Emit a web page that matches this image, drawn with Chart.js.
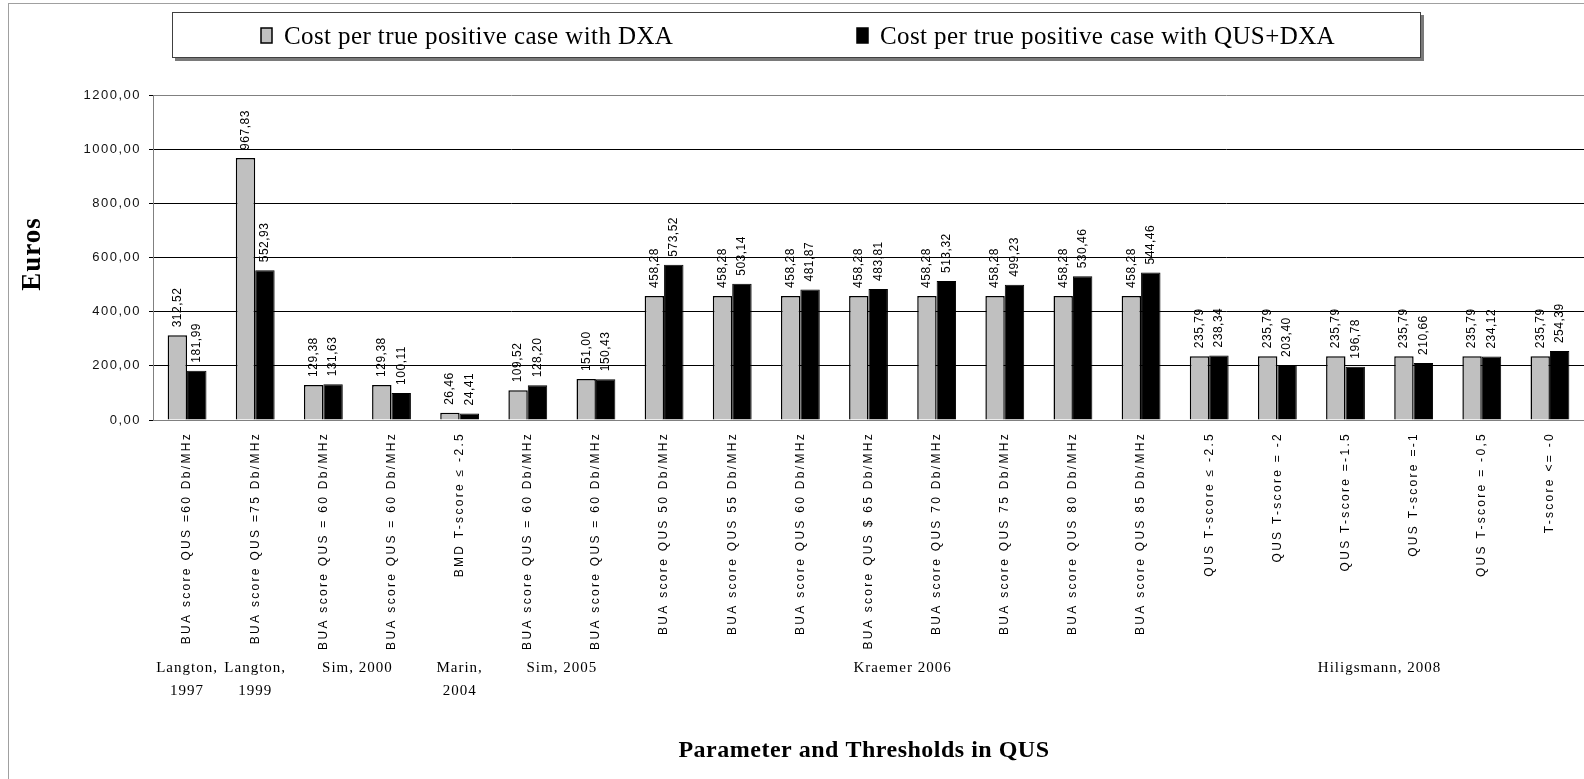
<!DOCTYPE html>
<html><head><meta charset="utf-8">
<script src="https://cdn.jsdelivr.net/npm/chart.js@4.4.0/dist/chart.umd.min.js"></script>
<style>html,body{margin:0;padding:0;background:#fff;} #wrap{position:relative;width:1584px;height:779px;}</style>
</head><body><div id="wrap"><canvas id="c"></canvas></div>
<script>
const categories = [
  'BUA score QUS =60 Db/MHz',
  'BUA score QUS =75 Db/MHz',
  'BUA score QUS = 60 Db/MHz',
  'BUA score QUS = 60 Db/MHz',
  'BMD T-score ≤ -2.5',
  'BUA score QUS = 60 Db/MHz',
  'BUA score QUS = 60 Db/MHz',
  'BUA score QUS 50 Db/MHz',
  'BUA score QUS 55 Db/MHz',
  'BUA score QUS 60 Db/MHz',
  'BUA score QUS $ 65 Db/MHz',
  'BUA score QUS 70 Db/MHz',
  'BUA score QUS 75 Db/MHz',
  'BUA score QUS 80 Db/MHz',
  'BUA score QUS 85 Db/MHz',
  'QUS T-score ≤ -2.5',
  'QUS T-score = -2',
  'QUS T-score =-1.5',
  'QUS T-score =-1',
  'QUS T-score = -0,5',
  'T-score <= -0'
];
const dxaCost = [312.52, 967.83, 129.38, 129.38, 26.46, 109.52, 151.00,
  458.28, 458.28, 458.28, 458.28, 458.28, 458.28, 458.28, 458.28,
  235.79, 235.79, 235.79, 235.79, 235.79, 235.79];
const qusDxaCost = [181.99, 552.93, 131.63, 100.11, 24.41, 128.20, 150.43,
  573.52, 503.14, 481.87, 483.81, 513.32, 499.23, 530.46, 544.46,
  238.34, 203.40, 196.78, 210.66, 234.12, 254.39];
const seriesNames = ['Cost per true positive case with DXA', 'Cost per true positive case with QUS+DXA'];
const yMin = 0, yMax = 1200, yStep = 200;
const studyLabels = [['Langton,', '1997'], ['Langton,', '1999'], ['Sim, 2000'], ['Marin,', '2004'], ['Sim, 2005'], ['Kraemer 2006'], ['Hiligsmann, 2008']];
const studyFirst = [0, 1, 2, 4, 5, 7, 15];
const studyLast  = [0, 1, 3, 4, 6, 14, 20];
const yTitle = 'Euros';
const xTitle = 'Parameter and Thresholds in QUS';

const fmt = v => v.toFixed(2).replace('.', ',');

const decor = {
  id: 'decor',
  beforeDraw(chart) { chart.ctx.letterSpacing = '1.5px'; },
  afterDatasetsDraw(chart) {
    const ctx = chart.ctx;
    ctx.save();
    ctx.letterSpacing = '0.5px';
    ctx.font = '12px "Liberation Sans", Arial, sans-serif';
    ctx.fillStyle = '#000';
    ctx.textAlign = 'left';
    ctx.textBaseline = 'middle';
    chart.data.datasets.forEach((ds, di) => {
      const meta = chart.getDatasetMeta(di);
      meta.data.forEach((el, i) => {
        ctx.save();
        ctx.translate(el.x, el.y - 8);
        ctx.rotate(-Math.PI / 2);
        ctx.fillText(fmt(ds.data[i]), 0, 0);
        ctx.restore();
      });
    });
    ctx.restore();
    ctx.letterSpacing = '2.3px';
  },
  afterDraw(chart) {
    const ctx = chart.ctx;
    ctx.save();
    ctx.letterSpacing = '0px';
    // outer frame
    ctx.strokeStyle = '#a0a0a0';
    ctx.lineWidth = 1;
    ctx.strokeRect(8.5, 3.5, 1600, 800);
    // legend box
    ctx.fillStyle = '#7a7a7a';
    ctx.fillRect(175, 15, 1249, 46);
    ctx.fillStyle = '#fff';
    ctx.fillRect(172, 12, 1249, 46);
    ctx.strokeStyle = '#404040';
    ctx.lineWidth = 1;
    ctx.strokeRect(172.5, 12.5, 1248, 45);
    const items = [{ sx: 261, tx: 284 }, { sx: 857, tx: 880 }];
    ctx.font = '25px "Liberation Serif", "Times New Roman", serif';
    ctx.letterSpacing = '0.4px';
    ctx.textBaseline = 'alphabetic';
    ctx.textAlign = 'left';
    chart.data.datasets.forEach((ds, i) => {
      const it = items[i];
      ctx.fillStyle = ds.backgroundColor;
      ctx.fillRect(it.sx, 28, 11, 15);
      ctx.strokeStyle = '#000';
      ctx.lineWidth = 1.5;
      ctx.strokeRect(it.sx, 28, 11, 15);
      ctx.fillStyle = '#000';
      ctx.fillText(ds.label, it.tx, 44);
    });
    // study group labels
    const xs = chart.scales.x;
    ctx.font = '15px "Liberation Serif", "Times New Roman", serif';
    ctx.letterSpacing = '1px';
    ctx.textAlign = 'center';
    ctx.textBaseline = 'middle';
    ctx.fillStyle = '#000';
    studyLabels.forEach((lines, g) => {
      const cx = (xs.getPixelForValue(studyFirst[g]) + xs.getPixelForValue(studyLast[g])) / 2;
      lines.forEach((ln, k) => ctx.fillText(ln, cx, 668 + k * 23));
    });
    // axis titles
    ctx.font = 'bold 24px "Liberation Serif", "Times New Roman", serif';
    ctx.letterSpacing = '0.5px';
    ctx.fillText(xTitle, 864, 751);
    ctx.save();
    ctx.translate(33, 254);
    ctx.rotate(-Math.PI / 2);
    ctx.font = 'bold 27px "Liberation Serif", "Times New Roman", serif';
    ctx.letterSpacing = '1px';
    ctx.fillText(yTitle, 0, 0);
    ctx.restore();
    ctx.restore();
  }
};

new Chart(document.getElementById('c'), {
  type: 'bar',
  data: {
    labels: categories,
    datasets: [
      { label: seriesNames[0], data: dxaCost, backgroundColor: '#c0c0c0', borderColor: '#000', borderWidth: 1.5,
        categoryPercentage: 0.57, barPercentage: 1.0 },
      { label: seriesNames[1], data: qusDxaCost, backgroundColor: '#000', borderColor: '#000', borderWidth: 1,
        categoryPercentage: 0.57, barPercentage: 1.0 }
    ]
  },
  options: {
    responsive: true,
    maintainAspectRatio: false,
    animation: false,
    devicePixelRatio: 1,
    layout: { padding: { left: 10, right: 0, top: 95, bottom: 10 } },
    plugins: { legend: { display: false }, tooltip: { enabled: false }, title: { display: false } },
    scales: {
      x: {
        grid: { display: false, drawTicks: false },
        border: { display: true, color: '#808080', width: 1 },
        ticks: {
          z: 1,
          autoSkip: false, maxRotation: 90, minRotation: 90, padding: 12,
          color: '#000',
          font: { family: '"Liberation Sans", Arial, sans-serif', size: 12 }
        },
        afterFit(s) { s.height = 779 - 10 - 420; }
      },
      y: {
        min: yMin, max: yMax,
        ticks: {
          stepSize: yStep, padding: 8, color: '#111',
          font: { family: '"Liberation Sans", Arial, sans-serif', size: 13 },
          callback: v => fmt(v)
        },
        grid: {
          color: c => (c.tick && (c.tick.value === yMin || c.tick.value === yMax)) ? '#808080' : '#000',
          lineWidth: 1, tickLength: 4, drawTicks: true,
          tickColor: '#000'
        },
        border: { display: true, color: '#808080', width: 1 },
        afterFit(s) { s.width = 143; }
      }
    }
  },
  plugins: [decor]
});
</script>
</body></html>
